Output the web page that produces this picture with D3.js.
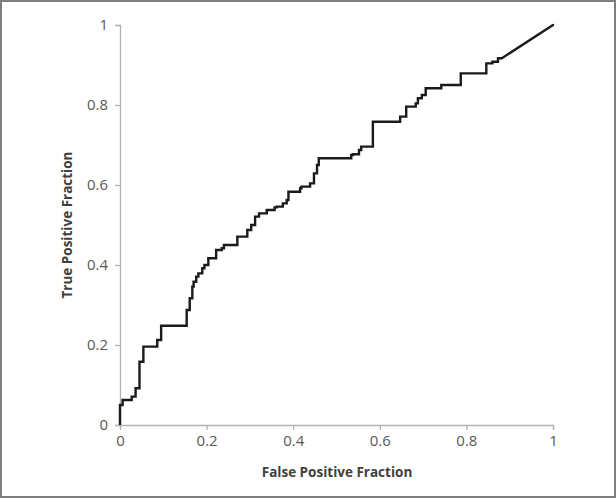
<!DOCTYPE html>
<html><head><meta charset="utf-8">
<script src="https://cdn.jsdelivr.net/npm/d3@7"></script>
<style>body{margin:0;background:#fff}svg{display:block}</style>
</head><body>
<script>
const fpr = [0,0,0.006,0.012,0.027,0.027,0.036,0.036,0.045,0.045,0.048,0.054,0.054,0.061,0.086,0.086,0.095,0.095,0.104,0.154,0.154,0.161,0.167,0.170,0.176,0.181,0.190,0.195,0.204,0.208,0.222,0.222,0.235,0.240,0.249,0.271,0.271,0.294,0.294,0.303,0.312,0.312,0.321,0.326,0.339,0.339,0.357,0.362,0.376,0.385,0.389,0.394,0.416,0.419,0.439,0.448,0.448,0.455,0.459,0.464,0.534,0.538,0.552,0.557,0.566,0.584,0.584,0.588,0.647,0.647,0.661,0.665,0.683,0.688,0.697,0.706,0.710,0.742,0.747,0.787,0.787,0.846,0.846,0.860,0.873,0.882,1];
const tpr = [0,0.033,0.050,0.0625,0.0625,0.071,0.071,0.092,0.092,0.129,0.158,0.158,0.1875,0.196,0.196,0.2125,0.2125,0.2375,0.248,0.248,0.262,0.2875,0.317,0.346,0.358,0.371,0.379,0.392,0.400,0.417,0.417,0.433,0.4375,0.442,0.450,0.450,0.471,0.471,0.4875,0.4875,0.500,0.517,0.521,0.529,0.529,0.536,0.5375,0.544,0.546,0.554,0.5625,0.583,0.583,0.592,0.596,0.604,0.621,0.629,0.650,0.667,0.667,0.675,0.677,0.6875,0.696,0.696,0.725,0.758,0.758,0.771,0.771,0.796,0.796,0.804,0.817,0.825,0.842,0.842,0.850,0.850,0.879,0.879,0.900,0.904,0.908,0.917,1];
const xTicks = [0,0.2,0.4,0.6,0.8,1];
const yTicks = [0,0.2,0.4,0.6,0.8,1];
const xTitle = "False Positive Fraction";
const yTitle = "True Positive Fraction";

const W = 616, H = 498;
const svg = d3.select("body").append("svg").attr("width", W).attr("height", H);
svg.append("rect").attr("x",1).attr("y",1).attr("width",W-2).attr("height",H-2)
  .attr("fill","#fff").attr("stroke","#7f7f7f").attr("stroke-width",2);

const x = d3.scaleLinear().domain([0,1]).range([120,553]);
const y = d3.scaleLinear().domain([0,1]).range([425,25]);
const fmt = d => String(d);

const font = "Open Sans, Carlito, Calibri, sans-serif";
const xa = svg.append("g").attr("transform","translate(0,425)")
  .call(d3.axisBottom(x).tickValues(xTicks).tickSize(5).tickPadding(5).tickFormat(fmt));
const ya = svg.append("g").attr("transform","translate(120,0)")
  .call(d3.axisLeft(y).tickValues(yTicks).tickSize(5).tickPadding(7).tickFormat(fmt));
[xa,ya].forEach(a=>{
  a.select(".domain").attr("stroke","#b3b3b3").attr("stroke-width",1.3);
  a.selectAll(".tick line").attr("stroke","#b3b3b3").attr("stroke-width",1.3);
  a.selectAll("text").attr("fill","#595959").attr("font-size",15).attr("font-family",font);
});

const pts = fpr.map((f,i)=>[f,tpr[i]]);
const n = pts.length;
svg.append("path").datum(pts.slice(0, n-1))
  .attr("d", d3.line().curve(d3.curveStepBefore).x(d=>x(d[0])).y(d=>y(d[1])))
  .attr("fill","none").attr("stroke","#1a1a1a").attr("stroke-width",2.4)
  .attr("stroke-linejoin","miter");
svg.append("path").datum(pts.slice(n-2))
  .attr("d", d3.line().x(d=>x(d[0])).y(d=>y(d[1])))
  .attr("fill","none").attr("stroke","#1a1a1a").attr("stroke-width",2.4)
  .attr("stroke-linecap","round");

svg.append("text").attr("x",337).attr("y",477).attr("text-anchor","middle")
  .attr("font-family",font).attr("font-weight","bold").attr("font-size",13.5)
  .attr("fill","#404040").text(xTitle);
svg.append("text").attr("transform","translate(72,225) rotate(-90)").attr("text-anchor","middle")
  .attr("font-family",font).attr("font-weight","bold").attr("font-size",13.5)
  .attr("fill","#404040").text(yTitle);
</script>
</body></html>
